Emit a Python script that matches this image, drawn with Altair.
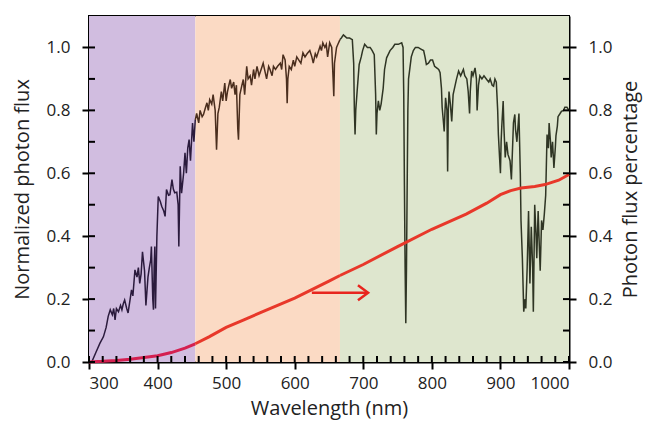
import altair as alt
import pandas as pd

# ---- data ----
wl = [300, 304, 310, 316, 321, 325, 328, 331, 334, 336, 338, 340, 343, 346, 348, 350, 352, 355, 357, 360,
      362, 364, 367, 370, 372, 374, 376, 378, 381, 383, 386, 388, 390, 391, 393, 394, 395, 396, 397, 399,
      401, 404, 406, 409, 411, 413, 416, 418, 421, 423, 425, 428, 430, 431, 433, 435, 438, 440, 442, 444,
      446, 448, 451, 453, 455,
      457, 460, 462, 465, 467, 470, 472, 474, 476, 479, 481, 484, 486, 488, 490, 493, 495, 498, 500, 502,
      504, 506, 508, 511, 513, 515, 517, 518, 520, 523, 525, 527, 530, 532, 535, 537, 540, 542, 545, 548,
      551, 554, 557, 559, 562, 564, 567, 569, 572, 575, 579, 581, 583, 586, 588, 589, 590, 592, 595, 598,
      600, 603, 606, 609, 612, 615, 618, 622, 625, 627, 630, 632, 635, 637, 639, 641, 644, 646, 648, 651,
      654, 656, 657, 658, 661, 663, 666,
      668, 671, 673, 676, 680, 684, 686, 687, 688, 689, 691, 694, 697, 699, 702, 706, 710, 713, 716, 718,
      719, 720, 722, 724, 726, 729, 731, 734, 739, 743, 746, 751, 756, 758, 759, 760, 761, 762, 763, 764,
      765, 766, 768, 770, 773, 776, 780, 784, 788, 790, 792, 795, 798, 801, 804, 807, 810, 812, 814, 815,
      817, 818, 819, 820, 822, 823, 824, 825, 827, 829, 831, 834, 836, 839, 842, 844, 846, 848, 851, 853,
      855, 856, 858, 860, 863, 865, 866, 868, 870, 873, 876, 880, 883, 885, 888, 890, 892, 894, 896, 897,
      899, 900, 901, 902, 904, 905, 907, 909, 911, 914, 916, 918, 919, 921, 922, 924, 926, 927, 929, 930,
      932, 934, 936, 937, 939, 941, 943, 945, 947, 948, 950, 952, 953, 955, 957, 958, 960, 962, 964, 966,
      968, 970, 971, 973, 974, 976, 978, 980, 981, 983, 984, 987, 989, 992, 994, 997, 1000]
flux = [0.0, 0.0, 0.03, 0.06, 0.08, 0.11, 0.145, 0.166, 0.15, 0.17, 0.134, 0.17, 0.16, 0.18, 0.166, 0.185, 0.197, 0.17, 0.156, 0.2,
        0.229, 0.21, 0.293, 0.27, 0.30, 0.25, 0.28, 0.35, 0.29, 0.18, 0.27, 0.30, 0.325, 0.367, 0.20, 0.166, 0.30, 0.367, 0.17, 0.40,
        0.526, 0.51, 0.495, 0.48, 0.463, 0.548, 0.53, 0.532, 0.58, 0.55, 0.538, 0.54, 0.50, 0.367, 0.622, 0.537, 0.60, 0.665, 0.60, 0.68,
        0.707, 0.64, 0.76, 0.70, 0.77,
        0.79, 0.76, 0.80, 0.78, 0.787, 0.81, 0.824, 0.80, 0.834, 0.82, 0.85, 0.80, 0.675, 0.79, 0.81, 0.86, 0.83, 0.887, 0.83, 0.86,
        0.88, 0.898, 0.87, 0.89, 0.85, 0.88, 0.74, 0.707, 0.85, 0.88, 0.898, 0.85, 0.94, 0.90, 0.91, 0.88, 0.93, 0.90, 0.94, 0.91,
        0.93, 0.95, 0.92, 0.90, 0.94, 0.93, 0.91, 0.94, 0.93, 0.94, 0.95, 0.93, 0.977, 0.96, 0.90, 0.823, 0.90, 0.94, 0.93, 0.96,
        0.94, 0.97, 0.96, 0.95, 0.983, 0.97, 0.98, 0.99, 0.97, 0.95, 0.98, 0.97, 0.99, 1.004, 0.99, 1.015, 1.0, 1.01, 0.97, 1.015,
        1.0, 0.90, 0.845, 0.95, 1.0, 1.01, 1.025,
        1.03, 1.04, 1.036, 1.03, 1.03, 1.025, 0.95, 0.80, 0.723, 0.80, 0.86, 0.946, 0.97, 0.99, 1.01, 1.0, 1.0, 0.99, 0.977, 0.85,
        0.723, 0.79, 0.83, 0.80, 0.82, 0.87, 0.93, 0.967, 0.99, 1.0, 1.01, 1.01, 1.015, 1.0, 0.85, 0.56, 0.30, 0.123, 0.30, 0.56,
        0.80, 0.90, 0.935, 0.97, 0.99, 1.0, 1.0, 0.995, 0.99, 0.97, 0.946, 0.95, 0.96, 0.96, 0.94, 0.935, 0.93, 0.92, 0.87, 0.81,
        0.76, 0.733, 0.79, 0.84, 0.80, 0.606, 0.80, 0.86, 0.82, 0.765, 0.85, 0.88, 0.90, 0.925, 0.91, 0.92, 0.93, 0.91, 0.90, 0.86,
        0.79, 0.86, 0.925, 0.91, 0.935, 0.90, 0.80, 0.88, 0.91, 0.90, 0.91, 0.898, 0.89, 0.90, 0.88, 0.877, 0.90, 0.89, 0.80, 0.723,
        0.64, 0.60, 0.70, 0.75, 0.83, 0.75, 0.65, 0.70, 0.66, 0.64, 0.58, 0.70, 0.76, 0.787, 0.74, 0.70, 0.76, 0.79, 0.60, 0.45,
        0.33, 0.16, 0.20, 0.17, 0.30, 0.48, 0.25, 0.43, 0.30, 0.16, 0.50, 0.40, 0.33, 0.48, 0.35, 0.29, 0.45, 0.42, 0.47, 0.53,
        0.723, 0.68, 0.76, 0.70, 0.65, 0.70, 0.617, 0.68, 0.72, 0.75, 0.78, 0.79, 0.797, 0.80, 0.81, 0.81, 0.80]

cum_wl = [300, 320, 340, 360, 380, 400, 420, 440, 455, 475, 500, 525, 550, 575, 600, 625, 650, 666,
          700, 750, 800, 850, 880, 900, 915, 930, 950, 965, 985, 1000]
cum_pct = [0.0, 0.002, 0.005, 0.009, 0.014, 0.02, 0.03, 0.044, 0.058, 0.08, 0.11, 0.133, 0.157, 0.18, 0.203,
           0.23, 0.257, 0.275, 0.31, 0.367, 0.422, 0.47, 0.505, 0.532, 0.545, 0.553, 0.558, 0.564, 0.578, 0.596]

region_names = ["UV-blue", "visible", "NIR"]
region_start = [300, 455, 666]
region_end = [455, 666, 1000]
region_fill = ["#D1BDE0", "#FBDAC4", "#DEE6CE"]
spec_colors = ["#2B1B3D", "#4A2E1E", "#2F3524"]
red_colors = ["#D42050", "#E8382A", "#E8382A"]

arrow_start = [625]
arrow_end = [707]
arrow_y = [0.22]

x_major = [300, 400, 500, 600, 700, 800, 900, 1000]
x_minor = [320, 340, 360, 380, 420, 440, 460, 480, 520, 540, 560, 580, 620, 640, 660, 680,
           720, 740, 760, 780, 820, 840, 860, 880, 920, 940, 960, 980]
y_major = [0.0, 0.2, 0.4, 0.6, 0.8, 1.0]
y_minor = [0.1, 0.3, 0.5, 0.7, 0.9]

W, H = 480, 346


def assign(values_x, values_y):
    rows = []
    for x, y in zip(values_x, values_y):
        for name, s, e in zip(region_names, region_start, region_end):
            if s <= x <= e:
                rows.append({"wl": x, "v": y, "region": name})
    return pd.DataFrame(rows)


spec_df = assign(wl, flux)
cum_df = assign(cum_wl, cum_pct)
reg_df = pd.DataFrame({"region": region_names, "start": region_start, "end": region_end})
arrow_df = pd.DataFrame({"s": arrow_start, "e": arrow_end, "y": arrow_y})
xt_df = pd.DataFrame({"x": x_major + x_minor})
yt_df = pd.DataFrame({"y": y_major + y_minor})

xscale = alt.Scale(domain=[300, 1000], nice=False, zero=False)
yscale = alt.Scale(domain=[0, 1.1], nice=False, zero=True)

x_axis = alt.Axis(values=x_major, title="Wavelength (nm)", format="d", tickSize=7, labelPadding=6,
                  titlePadding=7, grid=False)

bands = alt.Chart(reg_df).mark_rect(opacity=1).encode(
    x=alt.X("start:Q", scale=xscale, axis=x_axis),
    x2="end:Q",
    y=alt.value(0), y2=alt.value(H),
    color=alt.Color("region:N", scale=alt.Scale(domain=region_names, range=region_fill), legend=None),
)

spectrum = alt.Chart(spec_df).mark_line(strokeWidth=1.5).encode(
    x=alt.X("wl:Q", scale=xscale, axis=x_axis),
    y=alt.Y("v:Q", scale=yscale,
            axis=alt.Axis(values=y_major, format=".1f", title="Normalized photon flux", orient="left",
                          tickSize=7, labelPadding=12, titlePadding=14, grid=False)),
    stroke=alt.Stroke("region:N", scale=alt.Scale(domain=region_names, range=spec_colors), legend=None),
    detail="region:N",
)

cum = alt.Chart(cum_df).mark_line(strokeWidth=3).encode(
    x=alt.X("wl:Q", scale=xscale, axis=x_axis),
    y=alt.Y("v:Q", scale=yscale,
            axis=alt.Axis(values=y_major, format=".1f", title="Photon flux percentage", orient="right",
                          titleAngle=270, tickSize=7, labelPadding=12, titlePadding=29, grid=False)),
    stroke=alt.Stroke("region:N", scale=alt.Scale(domain=region_names, range=red_colors), legend=None),
    detail="region:N",
)

arrow_shaft = alt.Chart(arrow_df).mark_rule(color="#E8251E", strokeWidth=2.5).encode(
    x=alt.X("s:Q", scale=xscale, axis=x_axis), x2="e:Q",
    y=alt.Y("y:Q", scale=yscale, axis=None),
)
arrow_head = alt.Chart(arrow_df).mark_point(
    shape="M-1.35,-1L0,0L-1.35,1", filled=False, color="#E8251E", strokeWidth=2.5, size=225, opacity=1
).encode(
    x=alt.X("e:Q", scale=xscale, axis=x_axis),
    y=alt.Y("y:Q", scale=yscale, axis=None),
)

xticks_in = alt.Chart(xt_df).mark_rule(color="black", strokeWidth=2).encode(
    x=alt.X("x:Q", scale=xscale, axis=x_axis),
    y=alt.value(H), y2=alt.value(H - 6),
)
yticks_left = alt.Chart(yt_df).mark_rule(color="black", strokeWidth=2).encode(
    y=alt.Y("y:Q", scale=yscale, axis=None),
    x=alt.value(0), x2=alt.value(6),
)
yticks_right = alt.Chart(yt_df).mark_rule(color="black", strokeWidth=2).encode(
    y=alt.Y("y:Q", scale=yscale, axis=None),
    x=alt.value(W), x2=alt.value(W - 6),
)

chart = alt.layer(
    bands, spectrum, cum, arrow_shaft, arrow_head, xticks_in, yticks_left, yticks_right
).resolve_axis(y="independent").resolve_scale(color="independent", stroke="independent").properties(
    width=W, height=H,
    autosize=alt.AutoSizeParams(type="none"),
    padding={"left": 89, "top": 16, "right": 76, "bottom": 65},
).configure_view(
    stroke="black", strokeWidth=2
).configure_axis(
    domainColor="black", domainWidth=2, tickColor="black", tickWidth=2,
    labelFont="Open Sans", labelFontSize=17, labelColor="#222222",
    titleFont="Open Sans", titleFontSize=20, titleFontWeight="normal", titleColor="#222222",
)

chart.save("out.html", embed_options={"renderer": "svg", "actions": False})
